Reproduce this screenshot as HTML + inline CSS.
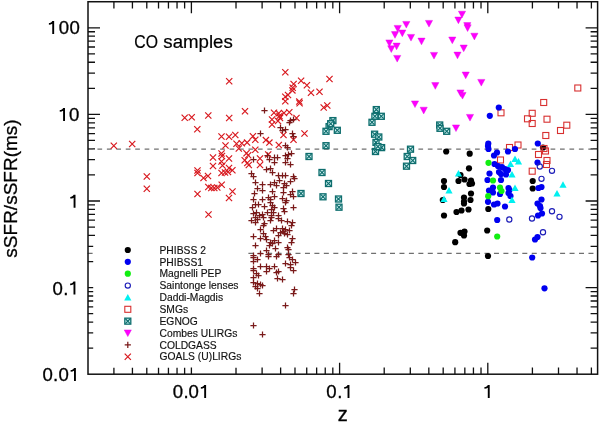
<!DOCTYPE html><html><head><meta charset="utf-8"><style>html,body{margin:0;padding:0;background:#fff;width:600px;height:425px;overflow:hidden}svg{display:block;will-change:transform}text{font-family:"Liberation Sans",sans-serif}.b{stroke:#000;stroke-width:0.3px}</style></head><body>
<svg width="600" height="425" viewBox="0 0 600 425">
<rect width="600" height="425" fill="#fff"/>
<path d="M113.91 1.73v6.8M113.91 374.20v-6.8M132.43 1.73v6.8M132.43 374.20v-6.8M146.79 1.73v6.8M146.79 374.20v-6.8M158.52 1.73v6.8M158.52 374.20v-6.8M168.44 1.73v6.8M168.44 374.20v-6.8M177.04 1.73v6.8M177.04 374.20v-6.8M184.62 1.73v6.8M184.62 374.20v-6.8M191.40 1.73v11.5M191.40 374.20v-11.5M236.01 1.73v6.8M236.01 374.20v-6.8M262.11 1.73v6.8M262.11 374.20v-6.8M280.63 1.73v6.8M280.63 374.20v-6.8M294.99 1.73v6.8M294.99 374.20v-6.8M306.72 1.73v6.8M306.72 374.20v-6.8M316.64 1.73v6.8M316.64 374.20v-6.8M325.24 1.73v6.8M325.24 374.20v-6.8M332.82 1.73v6.8M332.82 374.20v-6.8M339.60 1.73v11.5M339.60 374.20v-11.5M384.21 1.73v6.8M384.21 374.20v-6.8M410.31 1.73v6.8M410.31 374.20v-6.8M428.83 1.73v6.8M428.83 374.20v-6.8M443.19 1.73v6.8M443.19 374.20v-6.8M454.92 1.73v6.8M454.92 374.20v-6.8M464.84 1.73v6.8M464.84 374.20v-6.8M473.44 1.73v6.8M473.44 374.20v-6.8M481.02 1.73v6.8M481.02 374.20v-6.8M487.80 1.73v11.5M487.80 374.20v-11.5M532.41 1.73v6.8M532.41 374.20v-6.8M558.51 1.73v6.8M558.51 374.20v-6.8M577.03 1.73v6.8M577.03 374.20v-6.8M591.39 1.73v6.8M591.39 374.20v-6.8M88.00 348.13h7M597.60 348.13h-7M88.00 332.88h7M597.60 332.88h-7M88.00 322.06h7M597.60 322.06h-7M88.00 313.67h7M597.60 313.67h-7M88.00 306.81h7M597.60 306.81h-7M88.00 301.01h7M597.60 301.01h-7M88.00 295.99h7M597.60 295.99h-7M88.00 291.56h7M597.60 291.56h-7M88.00 287.60h12M597.60 287.60h-12M88.00 261.53h7M597.60 261.53h-7M88.00 246.28h7M597.60 246.28h-7M88.00 235.46h7M597.60 235.46h-7M88.00 227.07h7M597.60 227.07h-7M88.00 220.21h7M597.60 220.21h-7M88.00 214.41h7M597.60 214.41h-7M88.00 209.39h7M597.60 209.39h-7M88.00 204.96h7M597.60 204.96h-7M88.00 201.00h12M597.60 201.00h-12M88.00 174.93h7M597.60 174.93h-7M88.00 159.68h7M597.60 159.68h-7M88.00 148.86h7M597.60 148.86h-7M88.00 140.47h7M597.60 140.47h-7M88.00 133.61h7M597.60 133.61h-7M88.00 127.81h7M597.60 127.81h-7M88.00 122.79h7M597.60 122.79h-7M88.00 118.36h7M597.60 118.36h-7M88.00 114.40h12M597.60 114.40h-12M88.00 88.33h7M597.60 88.33h-7M88.00 73.08h7M597.60 73.08h-7M88.00 62.26h7M597.60 62.26h-7M88.00 53.87h7M597.60 53.87h-7M88.00 47.01h7M597.60 47.01h-7M88.00 41.21h7M597.60 41.21h-7M88.00 36.19h7M597.60 36.19h-7M88.00 31.76h7M597.60 31.76h-7M88.00 27.80h12M597.60 27.80h-12" stroke="#111" stroke-width="1.3" fill="none"/>
<path d="M88.0 149.11H597.6" stroke="#707070" stroke-width="1.15" stroke-dasharray="4.7 4.74" fill="none"/>
<path d="M87.6 253.34H597.6" stroke="#707070" stroke-width="1.15" stroke-dasharray="5 4.45" fill="none"/>
<rect x="93.2" y="240" width="155" height="127.5" fill="#fff"/>
<defs>
<g id="sx"><path d="M-3.1 -3.1L3.1 3.1M-3.1 3.1L3.1 -3.1" stroke="#d8181e" stroke-width="1.2" fill="none"/></g>
<g id="sp"><path d="M-3.1 0H3.1M0 -3.1V3.1" stroke="#7a1a1a" stroke-width="1.25" fill="none"/></g>
<g id="se"><rect x="-3" y="-3" width="6" height="6" fill="#d2f3f3" stroke="#0e6e6e" stroke-width="1.3"/><path d="M-2.4 -2.4L2.4 2.4M-2.4 2.4L2.4 -2.4" stroke="#0e6e6e" stroke-width="1.2"/></g>
<g id="sm"><path d="M-3.6 -3.1L3.6 -3.1L0 3.6Z" fill="#ff00ff" stroke="#e000e0" stroke-width="0.4"/></g>
<g id="sk"><circle r="3.1" fill="#000"/></g>
<g id="sb"><circle r="3.1" fill="#0000f0"/></g>
<g id="sg"><circle r="3.1" fill="#11ee11"/></g>
<g id="so"><circle r="2.6" fill="none" stroke="#1c1cb8" stroke-width="1.15"/></g>
<g id="sc"><path d="M-3.6 3L3.6 3L0 -3.5Z" fill="#00f0f0"/></g>
<g id="ss"><rect x="-3" y="-3" width="6" height="6" fill="none" stroke="#d83030" stroke-width="1.1"/></g>
</defs>
<use href="#sx" x="113.8" y="145.8"/>
<use href="#sx" x="132.2" y="144.0"/>
<use href="#sx" x="146.8" y="176.5"/>
<use href="#sx" x="146.8" y="188.8"/>
<use href="#sx" x="229.2" y="81.2"/>
<use href="#sx" x="184.7" y="117.8"/>
<use href="#sx" x="191.7" y="117.2"/>
<use href="#sx" x="208.3" y="115.5"/>
<use href="#sx" x="229.2" y="118.0"/>
<use href="#sx" x="245.0" y="111.2"/>
<use href="#sx" x="197.3" y="129.3"/>
<use href="#sx" x="285.3" y="72.3"/>
<use href="#sx" x="301.1" y="80.7"/>
<use href="#sx" x="293.6" y="84.0"/>
<use href="#sx" x="306.9" y="85.3"/>
<use href="#sx" x="292.7" y="87.7"/>
<use href="#sx" x="292.4" y="90.4"/>
<use href="#sx" x="311.0" y="92.7"/>
<use href="#sx" x="319.5" y="91.7"/>
<use href="#sx" x="329.5" y="79.0"/>
<use href="#sx" x="288.0" y="95.0"/>
<use href="#sx" x="285.3" y="96.7"/>
<use href="#sx" x="285.3" y="101.3"/>
<use href="#sx" x="299.3" y="101.6"/>
<use href="#sx" x="299.6" y="103.3"/>
<use href="#sx" x="323.7" y="107.5"/>
<use href="#sx" x="327.3" y="105.5"/>
<use href="#sx" x="274.0" y="112.7"/>
<use href="#sx" x="278.7" y="113.3"/>
<use href="#sx" x="284.0" y="113.0"/>
<use href="#sx" x="289.3" y="112.3"/>
<use href="#sx" x="279.5" y="116.0"/>
<use href="#sx" x="280.0" y="118.0"/>
<use href="#sx" x="272.0" y="119.5"/>
<use href="#sx" x="278.0" y="121.0"/>
<use href="#sx" x="272.0" y="124.5"/>
<use href="#sx" x="296.5" y="118.0"/>
<use href="#sx" x="304.5" y="133.5"/>
<use href="#sx" x="221.5" y="136.5"/>
<use href="#sx" x="229.0" y="136.8"/>
<use href="#sx" x="225.5" y="145.5"/>
<use href="#sx" x="221.5" y="153.5"/>
<use href="#sx" x="213.0" y="157.5"/>
<use href="#sx" x="222.0" y="156.0"/>
<use href="#sx" x="229.0" y="158.5"/>
<use href="#sx" x="221.5" y="161.5"/>
<use href="#sx" x="213.0" y="166.0"/>
<use href="#sx" x="229.0" y="168.0"/>
<use href="#sx" x="197.5" y="170.5"/>
<use href="#sx" x="197.5" y="173.0"/>
<use href="#sx" x="203.5" y="178.0"/>
<use href="#sx" x="208.0" y="176.0"/>
<use href="#sx" x="221.5" y="173.0"/>
<use href="#sx" x="225.0" y="172.5"/>
<use href="#sx" x="228.0" y="172.0"/>
<use href="#sx" x="222.5" y="165.5"/>
<use href="#sx" x="208.3" y="187.0"/>
<use href="#sx" x="211.3" y="188.0"/>
<use href="#sx" x="214.3" y="188.0"/>
<use href="#sx" x="217.3" y="187.5"/>
<use href="#sx" x="221.7" y="184.7"/>
<use href="#sx" x="197.5" y="194.0"/>
<use href="#sx" x="232.5" y="191.5"/>
<use href="#sx" x="229.0" y="198.0"/>
<use href="#sx" x="208.5" y="214.5"/>
<use href="#sx" x="235.3" y="135.0"/>
<use href="#sx" x="252.9" y="136.2"/>
<use href="#sx" x="255.3" y="139.7"/>
<use href="#sx" x="265.9" y="140.1"/>
<use href="#sx" x="269.4" y="142.6"/>
<use href="#sx" x="283.5" y="135.0"/>
<use href="#sx" x="293.5" y="139.7"/>
<use href="#sx" x="236.5" y="143.8"/>
<use href="#sx" x="241.8" y="143.2"/>
<use href="#sx" x="247.1" y="142.6"/>
<use href="#sx" x="238.8" y="148.5"/>
<use href="#sx" x="255.3" y="149.7"/>
<use href="#sx" x="246.5" y="153.2"/>
<use href="#sx" x="248.2" y="155.2"/>
<use href="#sx" x="244.7" y="160.3"/>
<use href="#sx" x="248.8" y="165.0"/>
<use href="#sx" x="247.3" y="163.0"/>
<use href="#sx" x="260.0" y="158.5"/>
<use href="#sx" x="260.0" y="165.0"/>
<use href="#sx" x="268.2" y="154.4"/>
<use href="#sx" x="278.8" y="145.0"/>
<use href="#sx" x="232.4" y="170.3"/>
<use href="#sp" x="264.5" y="110.5"/>
<use href="#sp" x="290.5" y="120.5"/>
<use href="#sp" x="289.5" y="122.5"/>
<use href="#sp" x="293.5" y="119.5"/>
<use href="#sp" x="280.5" y="127.5"/>
<use href="#sp" x="285.5" y="129.5"/>
<use href="#sp" x="282.5" y="130.5"/>
<use href="#sp" x="292.5" y="133.5"/>
<use href="#sp" x="293.5" y="136.5"/>
<use href="#sp" x="260.5" y="133.5"/>
<use href="#sp" x="285.5" y="145.5"/>
<use href="#sp" x="287.5" y="147.5"/>
<use href="#sp" x="285.5" y="155.5"/>
<use href="#sp" x="288.5" y="154.5"/>
<use href="#sp" x="291.5" y="153.5"/>
<use href="#sp" x="287.5" y="158.5"/>
<use href="#sp" x="253.5" y="159.5"/>
<use href="#sp" x="269.5" y="159.5"/>
<use href="#sp" x="274.5" y="157.5"/>
<use href="#sp" x="277.5" y="157.5"/>
<use href="#sp" x="274.5" y="162.5"/>
<use href="#sp" x="285.5" y="162.5"/>
<use href="#sp" x="290.5" y="164.5"/>
<use href="#sp" x="266.5" y="169.5"/>
<use href="#sp" x="270.5" y="168.5"/>
<use href="#sp" x="272.5" y="172.5"/>
<use href="#sp" x="251.5" y="173.5"/>
<use href="#sp" x="253.5" y="176.5"/>
<use href="#sp" x="278.5" y="175.5"/>
<use href="#sp" x="282.5" y="175.5"/>
<use href="#sp" x="285.5" y="175.5"/>
<use href="#sp" x="293.5" y="176.5"/>
<use href="#sp" x="267.5" y="155.5"/>
<use href="#sp" x="255.5" y="182.5"/>
<use href="#sp" x="262.5" y="184.5"/>
<use href="#sp" x="270.5" y="184.5"/>
<use href="#sp" x="274.5" y="182.5"/>
<use href="#sp" x="276.5" y="185.5"/>
<use href="#sp" x="279.5" y="180.5"/>
<use href="#sp" x="284.5" y="183.5"/>
<use href="#sp" x="290.5" y="181.5"/>
<use href="#sp" x="283.5" y="187.5"/>
<use href="#sp" x="257.5" y="188.5"/>
<use href="#sp" x="262.5" y="190.5"/>
<use href="#sp" x="272.5" y="191.5"/>
<use href="#sp" x="283.5" y="192.5"/>
<use href="#sp" x="292.5" y="191.5"/>
<use href="#sp" x="290.5" y="194.5"/>
<use href="#sp" x="254.5" y="193.5"/>
<use href="#sp" x="274.5" y="196.5"/>
<use href="#sp" x="268.5" y="197.5"/>
<use href="#sp" x="253.5" y="199.5"/>
<use href="#sp" x="262.5" y="199.5"/>
<use href="#sp" x="270.5" y="199.5"/>
<use href="#sp" x="282.5" y="198.5"/>
<use href="#sp" x="286.5" y="200.5"/>
<use href="#sp" x="285.5" y="202.5"/>
<use href="#sp" x="255.5" y="204.5"/>
<use href="#sp" x="258.5" y="204.5"/>
<use href="#sp" x="264.5" y="206.5"/>
<use href="#sp" x="272.5" y="205.5"/>
<use href="#sp" x="274.5" y="207.5"/>
<use href="#sp" x="283.5" y="208.5"/>
<use href="#sp" x="293.5" y="207.5"/>
<use href="#sp" x="252.5" y="207.5"/>
<use href="#sp" x="253.5" y="213.5"/>
<use href="#sp" x="259.5" y="215.5"/>
<use href="#sp" x="267.5" y="212.5"/>
<use href="#sp" x="273.5" y="212.5"/>
<use href="#sp" x="271.5" y="215.5"/>
<use href="#sp" x="284.5" y="211.5"/>
<use href="#sp" x="278.5" y="215.5"/>
<use href="#sp" x="294.5" y="178.5"/>
<use href="#sp" x="293.5" y="196.5"/>
<use href="#sp" x="286.5" y="185.5"/>
<use href="#sp" x="255.5" y="217.5"/>
<use href="#sp" x="251.5" y="220.5"/>
<use href="#sp" x="255.5" y="222.5"/>
<use href="#sp" x="263.5" y="217.5"/>
<use href="#sp" x="271.5" y="217.5"/>
<use href="#sp" x="278.5" y="218.5"/>
<use href="#sp" x="281.5" y="220.5"/>
<use href="#sp" x="270.5" y="220.5"/>
<use href="#sp" x="264.5" y="223.5"/>
<use href="#sp" x="263.5" y="225.5"/>
<use href="#sp" x="287.5" y="221.5"/>
<use href="#sp" x="292.5" y="222.5"/>
<use href="#sp" x="291.5" y="225.5"/>
<use href="#sp" x="260.5" y="229.5"/>
<use href="#sp" x="273.5" y="230.5"/>
<use href="#sp" x="276.5" y="228.5"/>
<use href="#sp" x="282.5" y="228.5"/>
<use href="#sp" x="285.5" y="229.5"/>
<use href="#sp" x="289.5" y="230.5"/>
<use href="#sp" x="280.5" y="232.5"/>
<use href="#sp" x="278.5" y="235.5"/>
<use href="#sp" x="284.5" y="233.5"/>
<use href="#sp" x="263.5" y="233.5"/>
<use href="#sp" x="253.5" y="236.5"/>
<use href="#sp" x="260.5" y="238.5"/>
<use href="#sp" x="265.5" y="236.5"/>
<use href="#sp" x="266.5" y="239.5"/>
<use href="#sp" x="292.5" y="238.5"/>
<use href="#sp" x="291.5" y="242.5"/>
<use href="#sp" x="274.5" y="240.5"/>
<use href="#sp" x="270.5" y="242.5"/>
<use href="#sp" x="278.5" y="242.5"/>
<use href="#sp" x="269.5" y="245.5"/>
<use href="#sp" x="255.5" y="245.5"/>
<use href="#sp" x="287.5" y="247.5"/>
<use href="#sp" x="275.5" y="248.5"/>
<use href="#sp" x="266.5" y="250.5"/>
<use href="#sp" x="288.5" y="249.5"/>
<use href="#sp" x="260.5" y="253.5"/>
<use href="#sp" x="253.5" y="255.5"/>
<use href="#sp" x="268.5" y="254.5"/>
<use href="#sp" x="278.5" y="254.5"/>
<use href="#sp" x="288.5" y="254.5"/>
<use href="#sp" x="283.5" y="231.5"/>
<use href="#sp" x="253.5" y="257.5"/>
<use href="#sp" x="257.5" y="259.5"/>
<use href="#sp" x="253.5" y="261.5"/>
<use href="#sp" x="268.5" y="256.5"/>
<use href="#sp" x="276.5" y="256.5"/>
<use href="#sp" x="289.5" y="257.5"/>
<use href="#sp" x="292.5" y="259.5"/>
<use href="#sp" x="295.5" y="262.5"/>
<use href="#sp" x="285.5" y="263.5"/>
<use href="#sp" x="290.5" y="264.5"/>
<use href="#sp" x="260.5" y="266.5"/>
<use href="#sp" x="266.5" y="266.5"/>
<use href="#sp" x="269.5" y="268.5"/>
<use href="#sp" x="274.5" y="266.5"/>
<use href="#sp" x="253.5" y="268.5"/>
<use href="#sp" x="253.5" y="270.5"/>
<use href="#sp" x="266.5" y="271.5"/>
<use href="#sp" x="278.5" y="271.5"/>
<use href="#sp" x="276.5" y="272.5"/>
<use href="#sp" x="290.5" y="267.5"/>
<use href="#sp" x="293.5" y="270.5"/>
<use href="#sp" x="256.5" y="273.5"/>
<use href="#sp" x="258.5" y="275.5"/>
<use href="#sp" x="253.5" y="277.5"/>
<use href="#sp" x="277.5" y="278.5"/>
<use href="#sp" x="282.5" y="279.5"/>
<use href="#sp" x="253.5" y="282.5"/>
<use href="#sp" x="257.5" y="283.5"/>
<use href="#sp" x="260.5" y="284.5"/>
<use href="#sp" x="262.5" y="285.5"/>
<use href="#sp" x="255.5" y="286.5"/>
<use href="#sp" x="257.5" y="288.5"/>
<use href="#sp" x="294.5" y="289.5"/>
<use href="#sp" x="259.5" y="293.5"/>
<use href="#sp" x="293.5" y="293.5"/>
<use href="#sp" x="285.5" y="305.5"/>
<use href="#sp" x="253.5" y="325.5"/>
<use href="#sp" x="262.5" y="334.5"/>
<use href="#sp" x="270.5" y="202.5"/>
<use href="#sp" x="271.5" y="209.5"/>
<use href="#sp" x="262.5" y="214.5"/>
<use href="#sp" x="256.5" y="212.5"/>
<use href="#sp" x="257.5" y="219.5"/>
<use href="#sp" x="272.5" y="243.5"/>
<use href="#sp" x="287.5" y="234.5"/>
<use href="#sm" x="406.3" y="24.5"/>
<use href="#sm" x="397.7" y="28.5"/>
<use href="#sm" x="402.3" y="33.1"/>
<use href="#sm" x="395.0" y="34.7"/>
<use href="#sm" x="411.0" y="37.5"/>
<use href="#sm" x="429.0" y="23.5"/>
<use href="#sm" x="421.5" y="41.2"/>
<use href="#sm" x="389.4" y="43.0"/>
<use href="#sm" x="396.6" y="46.2"/>
<use href="#sm" x="391.3" y="48.9"/>
<use href="#sm" x="397.2" y="58.5"/>
<use href="#sm" x="434.0" y="55.5"/>
<use href="#sm" x="462.0" y="14.3"/>
<use href="#sm" x="458.4" y="20.1"/>
<use href="#sm" x="467.3" y="25.7"/>
<use href="#sm" x="467.6" y="27.9"/>
<use href="#sm" x="474.4" y="36.3"/>
<use href="#sm" x="452.3" y="40.1"/>
<use href="#sm" x="463.7" y="48.1"/>
<use href="#sm" x="457.5" y="55.2"/>
<use href="#sm" x="435.3" y="85.7"/>
<use href="#sm" x="415.0" y="104.0"/>
<use href="#sm" x="465.7" y="75.1"/>
<use href="#sm" x="481.3" y="82.5"/>
<use href="#sm" x="460.5" y="93.0"/>
<use href="#sm" x="462.5" y="95.5"/>
<use href="#sm" x="423.7" y="110.3"/>
<use href="#sm" x="456.0" y="128.0"/>
<use href="#sm" x="470.0" y="117.5"/>
<use href="#se" x="376.3" y="109.6"/>
<use href="#se" x="332.9" y="120.6"/>
<use href="#se" x="329.1" y="126.6"/>
<use href="#se" x="326.0" y="131.3"/>
<use href="#se" x="337.3" y="130.3"/>
<use href="#se" x="330.7" y="123.7"/>
<use href="#se" x="326.0" y="145.7"/>
<use href="#se" x="374.9" y="116.3"/>
<use href="#se" x="381.3" y="116.3"/>
<use href="#se" x="372.0" y="122.3"/>
<use href="#se" x="374.6" y="134.2"/>
<use href="#se" x="378.8" y="137.0"/>
<use href="#se" x="376.0" y="142.4"/>
<use href="#se" x="381.6" y="147.6"/>
<use href="#se" x="375.5" y="151.5"/>
<use href="#se" x="377.9" y="146.6"/>
<use href="#se" x="439.7" y="125.0"/>
<use href="#se" x="440.0" y="128.3"/>
<use href="#se" x="446.7" y="131.3"/>
<use href="#se" x="309.0" y="156.5"/>
<use href="#se" x="322.0" y="172.5"/>
<use href="#se" x="328.5" y="183.5"/>
<use href="#se" x="301.0" y="193.5"/>
<use href="#se" x="323.0" y="196.8"/>
<use href="#se" x="338.5" y="199.0"/>
<use href="#se" x="339.0" y="207.2"/>
<use href="#se" x="410.5" y="149.2"/>
<use href="#se" x="407.2" y="156.5"/>
<use href="#se" x="412.7" y="160.5"/>
<use href="#se" x="406.5" y="166.2"/>
<use href="#sk" x="446.2" y="151.5"/>
<use href="#sk" x="469.7" y="153.7"/>
<use href="#sk" x="469.0" y="168.3"/>
<use href="#sk" x="460.5" y="175.0"/>
<use href="#sk" x="444.0" y="181.0"/>
<use href="#sk" x="458.5" y="181.0"/>
<use href="#sk" x="464.5" y="179.5"/>
<use href="#sk" x="471.0" y="180.5"/>
<use href="#sk" x="444.0" y="187.0"/>
<use href="#sk" x="442.8" y="200.0"/>
<use href="#sk" x="469.5" y="184.0"/>
<use href="#sk" x="472.0" y="183.5"/>
<use href="#sk" x="471.0" y="193.5"/>
<use href="#sk" x="464.0" y="197.5"/>
<use href="#sk" x="470.5" y="200.0"/>
<use href="#sk" x="464.0" y="201.5"/>
<use href="#sk" x="464.0" y="203.5"/>
<use href="#sk" x="468.5" y="209.5"/>
<use href="#sk" x="461.5" y="210.5"/>
<use href="#sk" x="456.5" y="212.0"/>
<use href="#sk" x="444.0" y="215.5"/>
<use href="#sk" x="460.5" y="232.8"/>
<use href="#sk" x="464.5" y="231.5"/>
<use href="#sk" x="464.0" y="235.5"/>
<use href="#sk" x="455.2" y="242.2"/>
<use href="#sk" x="488.0" y="256.0"/>
<use href="#sk" x="487.2" y="230.5"/>
<use href="#sk" x="488.3" y="209.0"/>
<use href="#sk" x="532.7" y="181.0"/>
<use href="#sk" x="532.7" y="188.5"/>
<use href="#sk" x="543.0" y="147.5"/>
<use href="#ss" x="501.0" y="112.8"/>
<use href="#ss" x="532.2" y="113.3"/>
<use href="#ss" x="527.5" y="118.8"/>
<use href="#ss" x="532.2" y="123.5"/>
<use href="#ss" x="577.8" y="88.0"/>
<use href="#ss" x="543.7" y="102.5"/>
<use href="#ss" x="547.0" y="119.2"/>
<use href="#ss" x="566.8" y="125.2"/>
<use href="#ss" x="560.5" y="130.5"/>
<use href="#ss" x="545.8" y="135.5"/>
<use href="#ss" x="518.0" y="145.0"/>
<use href="#ss" x="509.5" y="147.5"/>
<use href="#ss" x="544.0" y="148.5"/>
<use href="#ss" x="545.5" y="151.0"/>
<use href="#ss" x="538.5" y="154.5"/>
<use href="#ss" x="547.0" y="160.5"/>
<use href="#ss" x="546.5" y="164.5"/>
<use href="#ss" x="532.2" y="171.2"/>
<use href="#ss" x="500.5" y="160.0"/>
<use href="#sb" x="498.8" y="107.5"/>
<use href="#sb" x="489.8" y="115.8"/>
<use href="#sb" x="537.8" y="143.5"/>
<use href="#sb" x="515.0" y="149.0"/>
<use href="#sb" x="508.0" y="151.5"/>
<use href="#sb" x="488.3" y="143.5"/>
<use href="#sb" x="488.0" y="146.0"/>
<use href="#sb" x="488.5" y="149.0"/>
<use href="#sb" x="497.0" y="152.5"/>
<use href="#sb" x="494.0" y="155.5"/>
<use href="#sb" x="494.5" y="164.0"/>
<use href="#sb" x="498.0" y="166.0"/>
<use href="#sb" x="502.0" y="167.0"/>
<use href="#sb" x="505.0" y="169.0"/>
<use href="#sb" x="508.0" y="170.0"/>
<use href="#sb" x="499.0" y="172.0"/>
<use href="#sb" x="501.0" y="174.0"/>
<use href="#sb" x="506.0" y="174.5"/>
<use href="#sb" x="489.5" y="173.5"/>
<use href="#sb" x="487.5" y="180.0"/>
<use href="#sb" x="501.0" y="180.0"/>
<use href="#sb" x="493.0" y="187.5"/>
<use href="#sb" x="489.0" y="190.5"/>
<use href="#sb" x="493.0" y="192.5"/>
<use href="#sb" x="500.0" y="194.0"/>
<use href="#sb" x="508.5" y="188.0"/>
<use href="#sb" x="509.5" y="190.0"/>
<use href="#sb" x="508.5" y="193.0"/>
<use href="#sb" x="510.5" y="196.0"/>
<use href="#sb" x="488.0" y="201.8"/>
<use href="#sb" x="494.0" y="204.5"/>
<use href="#sb" x="497.5" y="203.5"/>
<use href="#sb" x="505.0" y="206.5"/>
<use href="#sb" x="497.2" y="220.0"/>
<use href="#sb" x="537.5" y="162.5"/>
<use href="#sb" x="538.5" y="188.0"/>
<use href="#sb" x="541.5" y="187.0"/>
<use href="#sb" x="541.5" y="199.5"/>
<use href="#sb" x="537.5" y="203.5"/>
<use href="#sb" x="540.0" y="206.0"/>
<use href="#sb" x="540.5" y="208.0"/>
<use href="#sb" x="542.0" y="213.5"/>
<use href="#sb" x="538.0" y="215.5"/>
<use href="#sb" x="537.5" y="237.0"/>
<use href="#sb" x="535.0" y="239.5"/>
<use href="#sb" x="532.2" y="257.5"/>
<use href="#sb" x="544.5" y="288.3"/>
<use href="#sg" x="488.5" y="162.8"/>
<use href="#sg" x="493.0" y="180.5"/>
<use href="#sg" x="500.0" y="187.5"/>
<use href="#sg" x="501.5" y="191.0"/>
<use href="#sg" x="488.2" y="196.2"/>
<use href="#sg" x="497.2" y="236.5"/>
<use href="#so" x="539.8" y="166.5"/>
<use href="#so" x="552.0" y="170.8"/>
<use href="#so" x="541.5" y="178.8"/>
<use href="#so" x="532.0" y="218.5"/>
<use href="#so" x="552.0" y="211.2"/>
<use href="#so" x="559.5" y="216.8"/>
<use href="#so" x="543.0" y="232.2"/>
<use href="#so" x="509.3" y="219.5"/>
<use href="#sc" x="458.5" y="173.5"/>
<use href="#sc" x="449.0" y="190.5"/>
<use href="#sc" x="444.0" y="199.0"/>
<use href="#sc" x="510.5" y="164.0"/>
<use href="#sc" x="515.0" y="159.0"/>
<use href="#sc" x="518.5" y="161.5"/>
<use href="#sc" x="512.0" y="174.5"/>
<use href="#sc" x="515.0" y="188.0"/>
<use href="#sc" x="512.0" y="200.0"/>
<use href="#sc" x="563.0" y="184.8"/>
<use href="#sc" x="557.0" y="193.5"/>
<rect x="88.0" y="1.73" width="509.60" height="372.47" fill="none" stroke="#111" stroke-width="1.5"/>
<text x="63.80" y="34.05" font-size="18.6" text-anchor="middle" class="b">0</text>
<text x="74.60" y="34.05" font-size="18.6" text-anchor="middle" class="b">0</text>
<text x="74.25" y="121.05" font-size="18.6" text-anchor="middle" class="b">0</text>
<text x="57.70" y="294.55" font-size="18.6" text-anchor="middle" class="b">0</text>
<text x="65.85" y="294.55" font-size="18.6" text-anchor="middle" class="b">.</text>
<text x="47.70" y="381.05" font-size="18.6" text-anchor="middle" class="b">0</text>
<text x="55.55" y="381.05" font-size="18.6" text-anchor="middle" class="b">.</text>
<text x="63.60" y="381.05" font-size="18.6" text-anchor="middle" class="b">0</text>
<text x="178.00" y="398.10" font-size="18.6" text-anchor="middle" class="b">0</text>
<text x="186.10" y="398.10" font-size="18.6" text-anchor="middle" class="b">.</text>
<text x="193.65" y="398.10" font-size="18.6" text-anchor="middle" class="b">0</text>
<text x="331.50" y="398.10" font-size="18.6" text-anchor="middle" class="b">0</text>
<text x="339.85" y="398.10" font-size="18.6" text-anchor="middle" class="b">.</text>
<path d="M54.15 33.90V20.90H52.25C51.60 22.30 50.40 22.90 48.90 23.00V24.70C50.20 24.70 51.40 24.30 52.25 23.80V33.90ZM65.00 120.90V107.90H63.10C62.45 109.30 61.25 109.90 59.75 110.00V111.70C61.05 111.70 62.25 111.30 63.10 110.80V120.90ZM75.50 207.80V194.80H73.60C72.95 196.20 71.75 196.80 70.25 196.90V198.60C71.55 198.60 72.75 198.20 73.60 197.70V207.80ZM75.40 294.40V281.40H73.50C72.85 282.80 71.65 283.40 70.15 283.50V285.20C71.45 285.20 72.65 284.80 73.50 284.30V294.40ZM75.90 380.90V367.90H74.00C73.35 369.30 72.15 369.90 70.65 370.00V371.70C71.95 371.70 73.15 371.30 74.00 370.80V380.90ZM206.10 397.95V384.95H204.20C203.55 386.35 202.35 386.95 200.85 387.05V388.75C202.15 388.75 203.35 388.35 204.20 387.85V397.95ZM349.45 397.95V384.95H347.55C346.90 386.35 345.70 386.95 344.20 387.05V388.75C345.50 388.75 346.70 388.35 347.55 387.85V397.95ZM489.70 397.95V384.95H487.80C487.15 386.35 485.95 386.95 484.45 387.05V388.75C485.75 388.75 486.95 388.35 487.80 387.85V397.95Z" fill="#000"/>
<text x="342.8" y="420.5" font-size="20" text-anchor="middle" class="b">z</text>
<text transform="translate(16.6 188.5) rotate(-90)" font-size="19" text-anchor="middle" class="b">sSFR/sSFR(ms)</text>
<text x="134.3" y="48.4" font-size="17.6" textLength="23.6" lengthAdjust="spacingAndGlyphs" stroke="#000" stroke-width="0.2">CO</text>
<text x="163.3" y="48.4" font-size="17.6" textLength="69.5" lengthAdjust="spacingAndGlyphs" stroke="#000" stroke-width="0.2">samples</text>
<use href="#sk" x="127.8" y="250.00"/>
<text x="159.5" y="253.70" font-size="10.3" fill="#111" stroke="#111" stroke-width="0.15">PHIBSS 2</text>
<use href="#sb" x="127.8" y="261.86"/>
<text x="159.5" y="265.56" font-size="10.3" fill="#111" stroke="#111" stroke-width="0.15">PHIBSS1</text>
<use href="#sg" x="127.8" y="273.72"/>
<text x="159.5" y="277.42" font-size="10.3" fill="#111" stroke="#111" stroke-width="0.15">Magnelli PEP</text>
<use href="#so" x="127.8" y="285.58"/>
<text x="159.5" y="289.28" font-size="10.3" fill="#111" stroke="#111" stroke-width="0.15">Saintonge lenses</text>
<use href="#sc" x="127.8" y="297.44"/>
<text x="159.5" y="301.14" font-size="10.3" fill="#111" stroke="#111" stroke-width="0.15">Daddi-Magdis</text>
<use href="#ss" x="127.8" y="309.30"/>
<text x="159.5" y="313.00" font-size="10.3" fill="#111" stroke="#111" stroke-width="0.15">SMGs</text>
<use href="#se" x="127.8" y="321.16"/>
<text x="159.5" y="324.86" font-size="10.3" fill="#111" stroke="#111" stroke-width="0.15">EGNOG</text>
<use href="#sm" x="127.8" y="333.02"/>
<text x="159.5" y="336.72" font-size="10.3" fill="#111" stroke="#111" stroke-width="0.15">Combes ULIRGs</text>
<use href="#sp" x="127.8" y="344.88"/>
<text x="159.5" y="348.58" font-size="10.3" fill="#111" stroke="#111" stroke-width="0.15">COLDGASS</text>
<use href="#sx" x="127.8" y="356.74"/>
<text x="159.5" y="360.44" font-size="10.3" fill="#111" stroke="#111" stroke-width="0.15">GOALS (U)LIRGs</text>
</svg></body></html>
